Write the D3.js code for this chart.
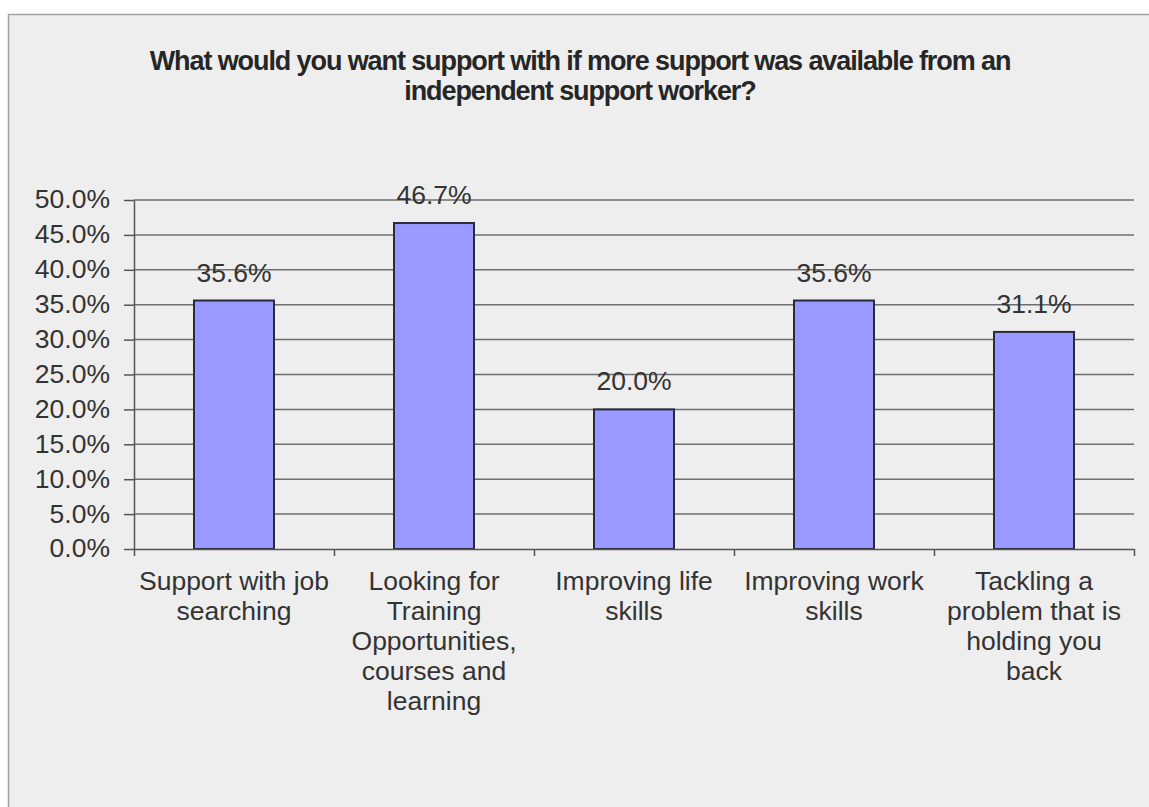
<!DOCTYPE html>
<html>
<head>
<meta charset="utf-8">
<script src="https://cdn.jsdelivr.net/npm/d3@7"></script>
<style>
  html, body { margin: 0; padding: 0; background: #ffffff; }
  svg { display: block; }
  text { font-family: "Liberation Sans", Arial, Helvetica, sans-serif; }
</style>
</head>
<body>
<svg id="chart" width="1149" height="807"></svg>
<script>
// Survey answers: share of respondents wanting each kind of support
const titleLines = [
  "What would you want support with if more support was available from an",
  "independent support worker?"
];
const categories = [
  "Support with job\nsearching",
  "Looking for\nTraining\nOpportunities,\ncourses and\nlearning",
  "Improving life\nskills",
  "Improving work\nskills",
  "Tackling a\nproblem that is\nholding you\nback"
];
const values = [35.6, 46.7, 20.0, 35.6, 31.1];
const yTicks = [0, 5, 10, 15, 20, 25, 30, 35, 40, 45, 50];

const W = 1149, H = 807;
const plot = { left: 134, right: 1134, top: 200, bottom: 549 };
const textColor = "#333333";

const svg = d3.select("#chart");

// chart area with its thin frame
svg.append("rect")
  .attr("x", 8.5).attr("y", 14.5)
  .attr("width", W + 20).attr("height", H + 20)
  .attr("fill", "#eeeeee")
  .attr("stroke", "#a3a3a3").attr("stroke-width", 1.5);

// title
svg.append("g").selectAll("text")
  .data(titleLines)
  .join("text")
  .attr("x", 580)
  .attr("y", (d, i) => 70 + i * 30)
  .attr("text-anchor", "middle")
  .attr("font-size", 27)
  .attr("font-weight", "bold")
  .attr("letter-spacing", "-1.1px")
  .attr("fill", "#262626")
  .text(d => d);

const x = d3.scaleBand()
  .domain(d3.range(categories.length))
  .range([plot.left, plot.right])
  .paddingInner(0.6)
  .paddingOuter(0.3);

const y = d3.scaleLinear()
  .domain([0, 50])
  .range([plot.bottom, plot.top]);

// horizontal gridlines
svg.append("g").selectAll("line")
  .data(yTicks.filter(t => t > 0))
  .join("line")
  .attr("x1", plot.left).attr("x2", plot.right)
  .attr("y1", d => y(d)).attr("y2", d => y(d))
  .attr("stroke", "#6e6e6e").attr("stroke-width", 1.5);

// bars
svg.append("g").selectAll("rect")
  .data(values)
  .join("rect")
  .attr("x", (d, i) => x(i))
  .attr("y", d => y(d))
  .attr("width", x.bandwidth())
  .attr("height", d => y(0) - y(d))
  .attr("fill", "#9999ff")
  .attr("stroke", "#2a2a3a").attr("stroke-width", 2);

// value labels
svg.append("g").selectAll("text")
  .data(values)
  .join("text")
  .attr("x", (d, i) => x(i) + x.bandwidth() / 2)
  .attr("y", d => y(d) - 19)
  .attr("text-anchor", "middle")
  .attr("font-size", 26.5)
  .attr("fill", textColor)
  .text(d => d.toFixed(1) + "%");

// y axis
const yAxis = svg.append("g")
  .attr("transform", `translate(${plot.left},0)`)
  .call(d3.axisLeft(y)
    .tickValues(yTicks)
    .tickSizeInner(10)
    .tickSizeOuter(0)
    .tickPadding(14)
    .tickFormat(d => d.toFixed(1) + "%"));
yAxis.select(".domain").attr("stroke", "#555555").attr("stroke-width", 1.5);
yAxis.selectAll(".tick line").attr("stroke", "#555555").attr("stroke-width", 1.5);
yAxis.selectAll(".tick text")
  .attr("font-size", 26.5)
  .attr("font-family", "'Liberation Sans', Arial, sans-serif")
  .attr("fill", textColor)
  .attr("dy", "0.3em");

// x axis with ticks on category boundaries
const xEdge = d3.scaleLinear()
  .domain([0, categories.length])
  .range([plot.left, plot.right]);
const xAxis = svg.append("g")
  .attr("transform", `translate(0,${plot.bottom})`)
  .call(d3.axisBottom(xEdge)
    .tickValues(d3.range(categories.length + 1))
    .tickSizeInner(7)
    .tickSizeOuter(0)
    .tickFormat(""));
xAxis.select(".domain").attr("stroke", "#555555").attr("stroke-width", 1.5);
xAxis.selectAll(".tick line").attr("stroke", "#555555").attr("stroke-width", 1.5);

// category labels, one line per tspan
const catLabels = svg.append("g").selectAll("text")
  .data(categories)
  .join("text")
  .attr("text-anchor", "middle")
  .attr("font-size", 26.5)
  .attr("fill", textColor)
  .attr("transform", (d, i) => `translate(${x(i) + x.bandwidth() / 2},${plot.bottom + 41})`);
catLabels.selectAll("tspan")
  .data(d => d.split("\n"))
  .join("tspan")
  .attr("x", 0)
  .attr("y", (d, i) => i * 30)
  .text(d => d);
</script>
</body>
</html>
